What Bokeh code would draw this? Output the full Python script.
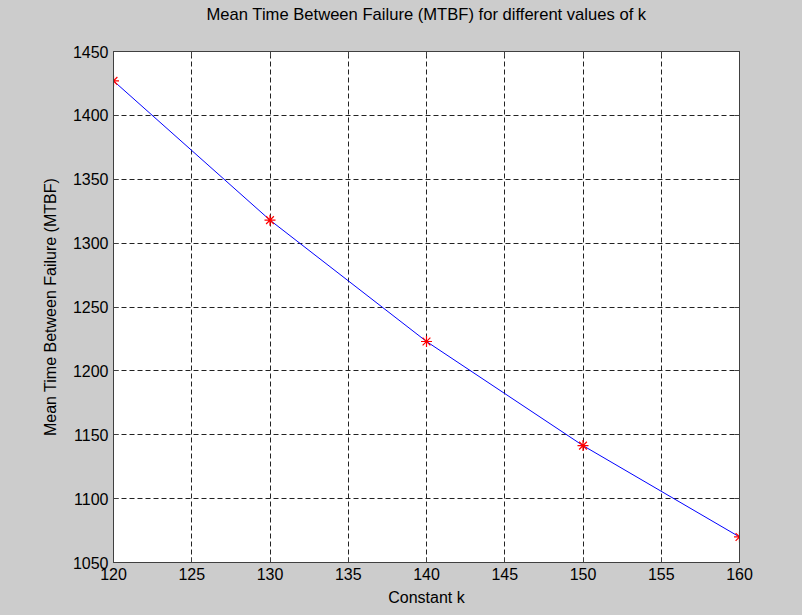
from bokeh.plotting import figure
from bokeh.models import Range1d, FixedTicker, LinearAxis
from bokeh.embed import file_html
from bokeh.resources import INLINE

# data
k_values = [120, 130, 140, 150, 160]
mtbf_values = [1427, 1318, 1223, 1141.5, 1070]
x_ticks = [120, 125, 130, 135, 140, 145, 150, 155, 160]
y_ticks = [1050, 1100, 1150, 1200, 1250, 1300, 1350, 1400, 1450]
title_text = "Mean Time Between Failure (MTBF) for different values of k"

FONT = "Liberation Sans"
GRAY_BG = "#cccccc"
FRAME_COL = "#404040"

p = figure(width=802, height=615, output_backend="svg", toolbar_location=None,
           x_range=Range1d(120, 160), y_range=Range1d(1050, 1450),
           min_border_left=113, min_border_right=63, min_border_top=51, min_border_bottom=53,
           title=title_text + "\n ")

p.background_fill_color = "white"
p.border_fill_color = GRAY_BG
p.outline_line_color = FRAME_COL
p.outline_line_width = 1

p.title.text_font = FONT
p.title.text_font_size = "16.6px"
p.title.text_font_style = "normal"
p.title.text_color = "black"
p.title.align = "center"
p.title.text_line_height = 1.45
p.title.standoff = 0

def style_axis(ax, show_labels=True):
    ax.axis_line_color = FRAME_COL
    ax.major_tick_line_color = FRAME_COL
    ax.major_tick_in = 5
    ax.major_tick_out = 0
    ax.minor_tick_line_color = None
    ax.major_label_text_font = FONT
    ax.major_label_text_color = "black"
    if show_labels:
        ax.major_label_text_font_size = "16px"
    else:
        ax.major_label_text_font_size = "1px"
        ax.major_label_text_color = None
    ax.axis_label_text_font = FONT
    ax.axis_label_text_font_size = "16px"
    ax.axis_label_text_font_style = "normal"
    ax.axis_label_text_color = "black"

top_axis = LinearAxis()
right_axis = LinearAxis()
p.add_layout(top_axis, "above")
p.add_layout(right_axis, "right")

for ax in p.below:
    style_axis(ax)
    ax.ticker = FixedTicker(ticks=x_ticks)
    ax.axis_label = "Constant k"
    ax.major_label_standoff = 5
    ax.axis_label_standoff = 6
for ax in p.left:
    style_axis(ax)
    ax.ticker = FixedTicker(ticks=y_ticks)
    ax.axis_label = "Mean Time Between Failure (MTBF)"
    ax.major_label_standoff = 5
    ax.axis_label_standoff = 11
style_axis(top_axis, show_labels=False)
top_axis.ticker = FixedTicker(ticks=x_ticks)
style_axis(right_axis, show_labels=False)
right_axis.ticker = FixedTicker(ticks=y_ticks)

for g in (p.xgrid, p.ygrid):
    g.grid_line_color = "#222222"
    g.grid_line_dash = "5 3"
    g.grid_line_width = 1
p.xgrid.ticker = FixedTicker(ticks=x_ticks)
p.ygrid.ticker = FixedTicker(ticks=y_ticks)

p.line(k_values, mtbf_values, line_color="blue", line_width=1)
p.scatter(k_values, mtbf_values, marker="asterisk", size=11, line_color="red", line_width=1.2)

template = """
{% block postamble %}
<style>
body { background: #cccccc; }
</style>
{% endblock %}
"""

open("out.html", "w").write(file_html(p, INLINE, template=template))
